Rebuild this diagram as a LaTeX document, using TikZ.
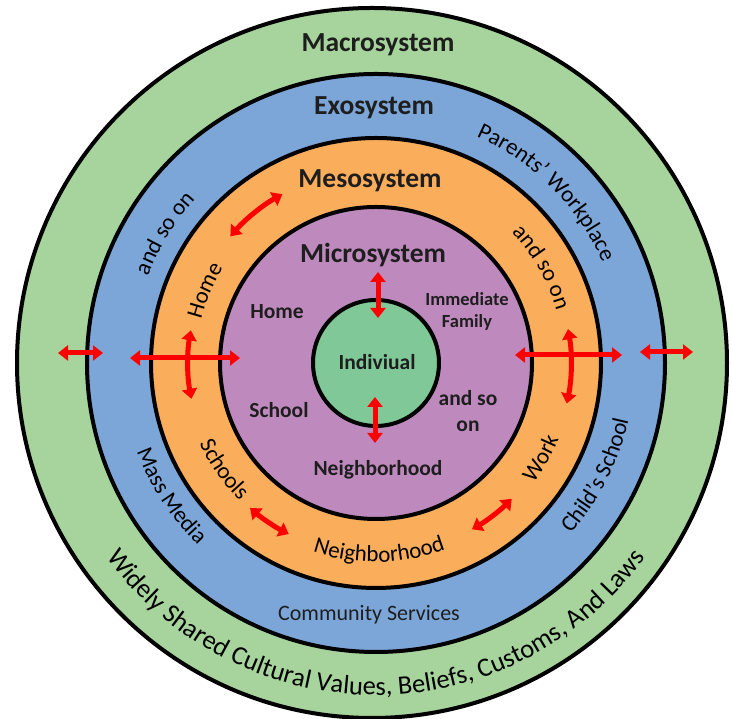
\documentclass[tikz,border=0pt]{standalone}
\usepackage{fontspec}
\setmainfont{Carlito}
\usetikzlibrary{arrows.meta,decorations.text}
\definecolor{macroC}{RGB}{166,212,156}
\definecolor{exoC}{RGB}{124,166,216}
\definecolor{mesoC}{RGB}{250,174,92}
\definecolor{microC}{RGB}{190,138,190}
\definecolor{indC}{RGB}{128,200,152}
\definecolor{inkC}{RGB}{30,30,30}
\newcommand\ringfont{\fontsize{23}{27}\selectfont}
\newcommand\bigringfont{\fontsize{26.5}{30}\selectfont}
\begin{document}
\begin{tikzpicture}[x=1pt,y=1pt,
  ring/.style={draw=black,line width=4pt},
  title/.style={font=\fontsize{27.5}{30}\selectfont\bfseries,text=inkC},
  microlabel/.style={font=\fontsize{21.5}{26}\selectfont\bfseries,align=center,text=inkC},
  smalllabel/.style={font=\fontsize{18.5}{22}\selectfont\bfseries,align=center,text=inkC},
  plainlabel/.style={font=\fontsize{22}{26}\selectfont,text=inkC},
  redarrow/.style={draw=red,line width=5pt,{Triangle[width=15pt,length=10pt]}-{Triangle[width=15pt,length=10pt]}}]
\useasboundingbox (0,0) rectangle (732,719);
\fill[white] (0,0) rectangle (732,719);
\coordinate (C) at (376,356);
\coordinate (CO) at (372,356);
% rings
\filldraw[ring,fill=macroC] (CO) circle[radius=355];
\filldraw[ring,fill=exoC] (C) circle[radius=289];
\filldraw[ring,fill=mesoC] (C) circle[radius=225];
\filldraw[ring,fill=microC] (C) circle[radius=156];
\filldraw[ring,fill=indC] (C) circle[radius=63];
% titles
\node[title] (tmacro) at (378,674) {Macrosystem};
\node[title] (texo) at (374,611) {Exosystem};
\node[title] (tmeso) at (370,538) {Mesosystem};
\node[title] (tmicro) at (373,464) {Microsystem};
\node[microlabel] (tind) at (377,357) {Indiviual};
% microsystem labels
\node[microlabel] (mhome) at (277,407) {Home};
\node[microlabel] (mschool) at (279,309) {School};
\node[microlabel] (mneigh) at (378,249) {Neighborhood};
\node[smalllabel] (mfam) at (467,408) {Immediate\\Family};
\node[microlabel] (mso) at (468,308) {and so\\on};
\node[plainlabel] (community) at (369,104) {Community Services};
% curved texts, tops outward (clockwise)
\path[decorate,decoration={text along path,text align=center,text={|\ringfont|Home}}]
  ([shift={(187:180)}]C) arc[start angle=187,end angle=127,radius=180];
\path[decorate,decoration={text along path,text align=center,text={|\ringfont|and so on}}]
  ([shift={(70:188)}]C) arc[start angle=70,end angle=-10,radius=188];
\path[decorate,decoration={text along path,text align=center,text={|\ringfont|and so on}}]
  ([shift={(190:244)}]C) arc[start angle=190,end angle=107,radius=244];
\path[decorate,decoration={text along path,text align=center,text={|\ringfont|Parents’ Workplace}}]
  ([shift={(110:248)}]C) arc[start angle=110,end angle=-20,radius=248];
% curved texts, tops inward (counter-clockwise)
\path[decorate,decoration={text along path,text align=center,text={|\ringfont|Schools}}]
  ([shift={(180:194)}]C) arc[start angle=180,end angle=250,radius=194];
\path[decorate,decoration={text along path,text align=center,text={|\ringfont|Neighborhood}}]
  ([shift={(230:199)}]C) arc[start angle=230,end angle=312,radius=199];
\path[decorate,decoration={text along path,text align=center,text={|\ringfont|Work}}]
  ([shift={(-60:198)}]C) arc[start angle=-60,end angle=0,radius=198];
\path[decorate,decoration={text along path,text align=center,text={|\ringfont|Mass Media}}]
  ([shift={(180:255)}]C) arc[start angle=180,end angle=246,radius=255];
\path[decorate,decoration={text along path,text align=center,text={|\ringfont|Child’s School}}]
  ([shift={(-70:259)}]C) arc[start angle=-70,end angle=16,radius=259];
\path[decorate,decoration={text along path,text align=center,text={|\bigringfont|Widely Shared Cultural Values, Beliefs, Customs, And Laws}}]
  ([shift={(192:332)}]C) arc[start angle=192,end angle=348,radius=332];
% arrow end points
\coordinate (a1) at (378,447); \coordinate (b1) at (378,401);
\coordinate (a2) at (375,322); \coordinate (b2) at (375,276);
\coordinate (a3) at (130,361); \coordinate (b3) at (240,361);
\coordinate (a4) at (58,366);  \coordinate (b4) at (103,366);
\coordinate (a5) at (515,364); \coordinate (b5) at (622,364);
\coordinate (a6) at (640,367); \coordinate (b6) at (693,367);
\coordinate (a7) at ([shift={(170:188)}]C);
\coordinate (a8) at ([shift={(10:195)}]C);
\coordinate (a9) at ([shift={(139:193)}]C);
\coordinate (a10) at ([shift={(229:192)}]C);
\coordinate (a11) at ([shift={(-60:192)}]C);
% arrows
\draw[redarrow] (a1) -- (b1);
\draw[redarrow] (a2) -- (b2);
\draw[redarrow] (a3) -- (b3);
\draw[redarrow] (a4) -- (b4);
\draw[redarrow] (a5) -- (b5);
\draw[redarrow] (a6) -- (b6);
\draw[redarrow] (a7) arc[start angle=170,end angle=191,radius=188];
\draw[redarrow] (a8) arc[start angle=10,end angle=-12,radius=195];
\draw[redarrow] (a9) arc[start angle=139,end angle=119,radius=193];
\draw[redarrow] (a10) arc[start angle=229,end angle=243,radius=192];
\draw[redarrow] (a11) arc[start angle=-60,end angle=-45,radius=192];
\end{tikzpicture}
\end{document}
